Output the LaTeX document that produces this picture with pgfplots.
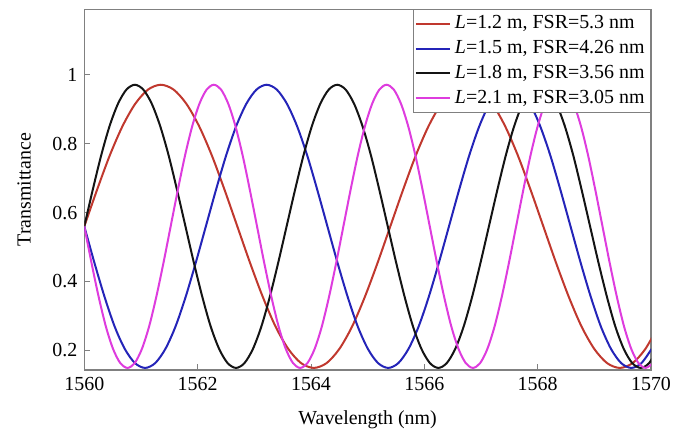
\documentclass[border=0pt]{standalone}
\usepackage{pgfplots}
\pgfplotsset{compat=1.18}
\usepackage{fontspec}
\setmainfont{Liberation Serif}
\definecolor{cred}{RGB}{192,56,46}
\definecolor{cblue}{RGB}{36,36,184}
\definecolor{cblack}{RGB}{20,20,20}
\definecolor{cmag}{RGB}{222,60,222}
\definecolor{cframe}{RGB}{128,128,128}
\begin{document}
\begin{tikzpicture}
\path[use as bounding box] (0,0) rectangle (341.5bp,219bp);
\begin{axis}[
  at={(42.15bp,34bp)}, anchor=south west,
  scale only axis, width=283.35bp, height=180.35bp,
  xmin=1560, xmax=1570, ymin=0.143, ymax=1.19,
  xtick={1560,1562,...,1570}, ytick={0.2,0.4,0.6,0.8,1},
  xtick pos=left, ytick pos=left, tick align=inside,
  major tick length=3bp,
  axis line style={cframe, line width=0.6pt},
  every tick/.style={cframe},
  /pgf/number format/assume math mode=true,
  /pgf/number format/set thousands separator={},
  tick label style={font=\fontsize{10}{12}\selectfont, black},
  xlabel={Wavelength (nm)}, ylabel={Transmittance},
  label style={font=\fontsize{10}{12}\selectfont},
  xlabel style={at={(axis description cs:0.5,-0.1386)}, anchor=center},
  ylabel style={at={(axis description cs:-0.106,0.5)}, anchor=center},
  legend style={at={(1,1)}, anchor=north east, draw=cframe, fill=white,
    font=\fontsize{10}{12}\selectfont, inner sep=1bp, row sep=0.3bp},
  legend cell align=left,
  every axis plot/.append style={line width=1bp, smooth},
]
\addplot[cred] coordinates {(1560,0.560)(1560.225,0.666)(1560.45,0.766)(1560.675,0.851)(1560.9,0.916)(1561.125,0.957)(1561.35,0.971)(1561.575,0.957)(1561.8,0.916)(1562.025,0.851)(1562.25,0.766)(1562.475,0.666)(1562.7,0.560)(1562.925,0.454)(1563.15,0.355)(1563.375,0.269)(1563.6,0.204)(1563.825,0.163)(1564.05,0.149)(1564.275,0.163)(1564.5,0.204)(1564.725,0.269)(1564.95,0.355)(1565.175,0.454)(1565.4,0.560)(1565.625,0.666)(1565.85,0.766)(1566.075,0.851)(1566.3,0.916)(1566.525,0.957)(1566.75,0.971)(1566.975,0.957)(1567.2,0.916)(1567.425,0.851)(1567.65,0.766)(1567.875,0.666)(1568.1,0.560)(1568.325,0.454)(1568.55,0.355)(1568.775,0.269)(1569.0,0.204)(1569.225,0.163)(1569.45,0.149)(1569.675,0.163)(1569.9,0.204)(1570.125,0.269)};
\addlegendentry{\textit{L}=1.2 m, FSR=5.3 nm}
\addplot[cblue] coordinates {(1560,0.560)(1560.179,0.454)(1560.358,0.355)(1560.536,0.269)(1560.715,0.204)(1560.894,0.163)(1561.073,0.149)(1561.251,0.163)(1561.43,0.204)(1561.609,0.269)(1561.788,0.355)(1561.966,0.454)(1562.145,0.560)(1562.324,0.666)(1562.503,0.766)(1562.681,0.851)(1562.86,0.916)(1563.039,0.957)(1563.218,0.971)(1563.396,0.957)(1563.575,0.916)(1563.754,0.851)(1563.933,0.766)(1564.111,0.666)(1564.29,0.560)(1564.469,0.454)(1564.648,0.355)(1564.826,0.269)(1565.005,0.204)(1565.184,0.163)(1565.363,0.149)(1565.541,0.163)(1565.72,0.204)(1565.899,0.269)(1566.078,0.355)(1566.256,0.454)(1566.435,0.560)(1566.614,0.666)(1566.793,0.766)(1566.971,0.851)(1567.15,0.916)(1567.329,0.957)(1567.508,0.971)(1567.686,0.957)(1567.865,0.916)(1568.044,0.851)(1568.223,0.766)(1568.401,0.666)(1568.58,0.560)(1568.759,0.454)(1568.938,0.355)(1569.116,0.269)(1569.295,0.204)(1569.474,0.163)(1569.653,0.149)(1569.831,0.163)(1570.01,0.204)};
\addlegendentry{\textit{L}=1.5 m, FSR=4.26 nm}
\addplot[cblack] coordinates {(1560,0.560)(1560.149,0.666)(1560.298,0.766)(1560.446,0.851)(1560.595,0.916)(1560.744,0.957)(1560.893,0.971)(1561.041,0.957)(1561.19,0.916)(1561.339,0.851)(1561.488,0.766)(1561.636,0.666)(1561.785,0.560)(1561.934,0.454)(1562.083,0.355)(1562.231,0.269)(1562.38,0.204)(1562.529,0.163)(1562.678,0.149)(1562.826,0.163)(1562.975,0.204)(1563.124,0.269)(1563.273,0.355)(1563.421,0.454)(1563.57,0.560)(1563.719,0.666)(1563.868,0.766)(1564.016,0.851)(1564.165,0.916)(1564.314,0.957)(1564.463,0.971)(1564.611,0.957)(1564.76,0.916)(1564.909,0.851)(1565.058,0.766)(1565.206,0.666)(1565.355,0.560)(1565.504,0.454)(1565.653,0.355)(1565.801,0.269)(1565.95,0.204)(1566.099,0.163)(1566.248,0.149)(1566.396,0.163)(1566.545,0.204)(1566.694,0.269)(1566.843,0.355)(1566.991,0.454)(1567.14,0.560)(1567.289,0.666)(1567.438,0.766)(1567.586,0.851)(1567.735,0.916)(1567.884,0.957)(1568.033,0.971)(1568.181,0.957)(1568.33,0.916)(1568.479,0.851)(1568.628,0.766)(1568.776,0.666)(1568.925,0.560)(1569.074,0.454)(1569.223,0.355)(1569.371,0.269)(1569.52,0.204)(1569.669,0.163)(1569.818,0.149)(1569.966,0.163)(1570.115,0.204)};
\addlegendentry{\textit{L}=1.8 m, FSR=3.56 nm}
\addplot[cmag] coordinates {(1560,0.560)(1560.127,0.454)(1560.254,0.355)(1560.381,0.269)(1560.508,0.204)(1560.635,0.163)(1560.762,0.149)(1560.889,0.163)(1561.016,0.204)(1561.143,0.269)(1561.27,0.355)(1561.397,0.454)(1561.524,0.560)(1561.651,0.666)(1561.778,0.766)(1561.905,0.851)(1562.032,0.916)(1562.159,0.957)(1562.286,0.971)(1562.413,0.957)(1562.54,0.916)(1562.667,0.851)(1562.794,0.766)(1562.921,0.666)(1563.048,0.560)(1563.175,0.454)(1563.302,0.355)(1563.429,0.269)(1563.556,0.204)(1563.683,0.163)(1563.81,0.149)(1563.937,0.163)(1564.064,0.204)(1564.191,0.269)(1564.318,0.355)(1564.445,0.454)(1564.572,0.560)(1564.699,0.666)(1564.826,0.766)(1564.953,0.851)(1565.08,0.916)(1565.207,0.957)(1565.334,0.971)(1565.461,0.957)(1565.588,0.916)(1565.715,0.851)(1565.842,0.766)(1565.969,0.666)(1566.096,0.560)(1566.223,0.454)(1566.35,0.355)(1566.477,0.269)(1566.604,0.204)(1566.731,0.163)(1566.858,0.149)(1566.985,0.163)(1567.112,0.204)(1567.239,0.269)(1567.366,0.355)(1567.493,0.454)(1567.62,0.560)(1567.747,0.666)(1567.874,0.766)(1568.001,0.851)(1568.128,0.916)(1568.255,0.957)(1568.382,0.971)(1568.509,0.957)(1568.636,0.916)(1568.763,0.851)(1568.89,0.766)(1569.017,0.666)(1569.144,0.560)(1569.271,0.454)(1569.398,0.355)(1569.525,0.269)(1569.652,0.204)(1569.779,0.163)(1569.906,0.149)(1570.033,0.163)};
\addlegendentry{\textit{L}=2.1 m, FSR=3.05 nm}
\end{axis}
\end{tikzpicture}
\end{document}
